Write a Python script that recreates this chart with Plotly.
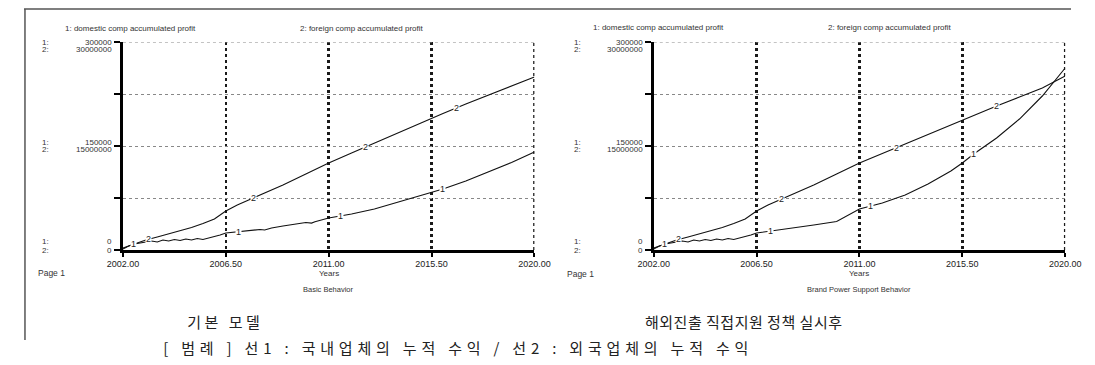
import numpy as np
import plotly.graph_objects as go

# ---------------- data ----------------
x_ticks = [2002.0, 2006.5, 2011.0, 2015.5, 2020.0]
x_tick_text = ["2002.00", "2006.50", "2011.00", "2015.50", "2020.00"]
y1_ticks = [0, 75000, 150000, 225000, 300000]
y2_ticks = [0, 7500000, 15000000, 22500000, 30000000]

# domestic comp accumulated profit (series 1), Basic Behavior
dom_basic_years = [2002.0, 2002.25, 2002.5, 2002.75, 2003.0, 2003.25, 2003.5, 2003.75,
                   2004.0, 2004.25, 2004.5, 2004.75, 2005.0, 2005.25, 2005.5, 2005.75,
                   2006.0, 2006.25, 2006.5, 2007.0, 2007.5, 2008.0, 2008.2, 2008.5,
                   2009.0, 2010.0, 2010.25, 2010.4, 2011.0, 2012.0, 2013.0, 2014.0,
                   2015.0, 2015.5, 2016.0, 2017.0, 2018.0, 2019.0, 2020.0]
dom_basic_vals = [1400, 5800, 8700, 10100, 11500, 13000, 11500, 14400,
                  13000, 15100, 13700, 15900, 14400, 16600, 15100, 17300,
                  18700, 21600, 24500, 26000, 27400, 29600, 28800, 31700,
                  34600, 39700, 38800, 40800, 46100, 51900, 59100, 68500,
                  77900, 82200, 88000, 99500, 112500, 126200, 141300]

# domestic comp accumulated profit (series 1), Brand Power Support Behavior
dom_brand_years = [2002.0, 2002.25, 2002.5, 2002.75, 2003.0, 2003.25, 2003.5, 2003.75,
                   2004.0, 2004.25, 2004.5, 2004.75, 2005.0, 2005.25, 2005.5, 2005.75,
                   2006.0, 2006.25, 2006.5, 2007.0, 2008.0, 2009.0, 2010.0, 2011.0,
                   2012.0, 2013.0, 2014.0, 2015.0, 2015.5, 2016.0, 2017.0, 2018.0,
                   2019.0, 2020.0]
dom_brand_vals = [1400, 5800, 8700, 10100, 11500, 13000, 11500, 14400,
                  13000, 15100, 13700, 15900, 14400, 16600, 15100, 17300,
                  18700, 21600, 24500, 26700, 31700, 36000, 41100, 59100,
                  67800, 79300, 95200, 113900, 125500, 138500, 161500, 188900,
                  222100, 262500]

# foreign comp accumulated profit (series 2)
for_years = [2002.0, 2002.5, 2003.0, 2003.5, 2004.0, 2004.5, 2005.0, 2005.5, 2006.0,
             2006.5, 2007.0, 2007.5, 2008.0, 2009.0, 2010.0, 2011.0, 2012.0, 2013.0,
             2014.0, 2015.0, 2015.5, 2016.0, 2017.0, 2018.0, 2019.0, 2020.0]
for_basic_vals = [290000, 870000, 1440000, 1870000, 2310000, 2740000, 3250000, 3820000,
                  4470000, 5630000, 6490000, 7210000, 7930000, 9380000, 10960000,
                  12550000, 13990000, 15430000, 16880000, 18320000, 19040000, 19690000,
                  21060000, 22360000, 23650000, 24950000]
for_brand_vals = [290000, 870000, 1440000, 1870000, 2310000, 2740000, 3250000, 3820000,
                  4470000, 5630000, 6490000, 7210000, 7930000, 9380000, 10960000,
                  12550000, 13920000, 15290000, 16660000, 18030000, 18750000, 19470000,
                  20770000, 22070000, 23370000, 25100000]

# where the Stella-style series numbers sit along the lines
lab1_basic = [2002.45, 2007.05, 2011.5, 2016.0]
lab2_basic = [2003.1, 2007.7, 2012.6, 2016.6]
lab1_brand = [2002.45, 2007.1, 2011.5, 2016.0]
lab2_brand = [2003.1, 2007.6, 2012.6, 2017.0]

cap_left = "기본 모델"
cap_right = "해외진출 직접지원 정책 실시후"
legend_text = "[ 범례 ] 선1 : 국내업체의 누적 수익 / 선2 : 외국업체의 누적 수익"

# ---------------- layout geometry ----------------
# the page keeps the browser's 8px body margin, so the figure is sized to fit the
# 1095x365 window exactly and positions are given in window pixels
WIN_W, WIN_H, MARGIN = 1095, 365, 8
W, H = WIN_W - 2 * MARGIN, WIN_H - 2 * MARGIN
def px(x):
    return (x - MARGIN) / W
def py(y):
    return 1 - (y - MARGIN) / H

dom_left = [px(110), px(534)]
dom_right = [px(657), px(1081)]
ydom = [py(250), py(42)]

FONT = "Liberation Sans, Arial, sans-serif"
KFONT = "Noto Sans CJK KR, sans-serif"
TXT = "#333333"

fig = go.Figure()

line_style = dict(color="#111111", width=1.1)
fig.add_trace(go.Scatter(x=dom_basic_years, y=dom_basic_vals, mode="lines", line=line_style,
                         xaxis="x", yaxis="y", showlegend=False, hoverinfo="skip"))
fig.add_trace(go.Scatter(x=for_years, y=for_basic_vals, mode="lines", line=line_style,
                         xaxis="x", yaxis="y2", showlegend=False, hoverinfo="skip"))
fig.add_trace(go.Scatter(x=dom_brand_years, y=dom_brand_vals, mode="lines", line=line_style,
                         xaxis="x2", yaxis="y3", showlegend=False, hoverinfo="skip"))
fig.add_trace(go.Scatter(x=for_years, y=for_brand_vals, mode="lines", line=line_style,
                         xaxis="x2", yaxis="y4", showlegend=False, hoverinfo="skip"))

VGRID = "#1a1a1a"
HGRID = "#888888"
xcommon = dict(range=[x_ticks[0], x_ticks[-1]], tickvals=x_ticks, ticktext=x_tick_text,
               showline=True, linecolor="#000", linewidth=2.5, ticks="outside",
               ticklen=4, tickwidth=2, tickcolor="#000",
               showgrid=True, gridcolor=VGRID, gridwidth=2.5, griddash="dot",
               tickfont=dict(family=FONT, size=9, color="#222"), zeroline=False,
               fixedrange=True)
ycommon = dict(range=[y1_ticks[0], y1_ticks[-1]], tickvals=y1_ticks, showticklabels=False,
               showline=True, linecolor="#000", linewidth=2.5, ticks="outside",
               ticklen=6, tickwidth=2, tickcolor="#000",
               showgrid=True, gridcolor=HGRID, gridwidth=1, griddash="dot",
               zeroline=False, domain=ydom, fixedrange=True)
y2common = dict(range=[y2_ticks[0], y2_ticks[-1]], visible=False, domain=ydom,
                showgrid=False, zeroline=False, fixedrange=True)

fig.update_layout(
    width=W, height=H, autosize=False, margin=dict(l=0, r=0, t=0, b=0),
    paper_bgcolor="white", plot_bgcolor="white",
    xaxis=dict(domain=dom_left, anchor="y", **xcommon),
    xaxis2=dict(domain=dom_right, anchor="y3", **xcommon),
    yaxis=dict(anchor="x", **ycommon),
    yaxis2=dict(anchor="x", overlaying="y", **y2common),
    yaxis3=dict(anchor="x2", **ycommon),
    yaxis4=dict(anchor="x2", overlaying="y3", **y2common),
)

# edge grid lines (right-hand 2020 line and top 300000 line)
for xr, yr in (("x", "y"), ("x2", "y3")):
    fig.add_shape(type="line", xref=xr, yref=yr, x0=x_ticks[-1], x1=x_ticks[-1],
                  y0=y1_ticks[0], y1=y1_ticks[-1], line=dict(color=VGRID, width=2.5, dash="dot"))
    fig.add_shape(type="line", xref=xr, yref=yr, x0=x_ticks[0], x1=x_ticks[-1],
                  y0=y1_ticks[-1], y1=y1_ticks[-1], line=dict(color=HGRID, width=1, dash="dot"))

ann = []
def add_text(text, x, y, size=8, xanchor="left", font=FONT, color=TXT, **kw):
    ann.append(dict(text=text, x=x, y=y, xref="paper", yref="paper", showarrow=False,
                    xanchor=xanchor, yanchor="middle", font=dict(family=font, size=size, color=color),
                    **kw))

# series headers
add_text("1: domestic comp accumulated profit", px(48), py(28))
add_text("2: foreign comp accumulated profit", px(290), py(28))
add_text("1: domestic comp accumulated profit", px(592), py(27))
add_text("2: foreign comp accumulated profit", px(835), py(27))

# double y-axis labels
def ylabels(yref, lab_x, val_x):
    rows = [(y1_ticks[-1], y2_ticks[-1], 0, -7),
            (y1_ticks[2], y2_ticks[2], 4, -3),
            (y1_ticks[0], y2_ticks[0], 9, 0)]
    for v1, v2, s1, s2 in rows:
        for num, v, s in (("1:", v1, s1), ("2:", v2, s2)):
            ann.append(dict(text=num, x=lab_x, y=v1, xref="paper", yref=yref, yshift=s,
                            showarrow=False, xanchor="left", yanchor="middle",
                            font=dict(family=FONT, size=8, color=TXT)))
            ann.append(dict(text=str(v), x=val_x, y=v1, xref="paper", yref=yref, yshift=s,
                            showarrow=False, xanchor="right", yanchor="middle",
                            font=dict(family=FONT, size=8, color=TXT)))
ylabels("y", px(25), px(101))
ylabels("y3", px(573), px(648))

# axis titles / footers
for cx, sub in ((px(322), "Basic Behavior"), (px(869), "Brand Power Support Behavior")):
    add_text("Years", cx, py(273), size=8, xanchor="center")
    add_text(sub, cx, py(289), size=7.5, xanchor="center")
add_text("Page 1", px(20), py(273), size=8.5)
add_text("Page 1", px(566), py(274), size=8.5)

# line number labels
def line_labels(xs, years, vals, num, xref, yref):
    for lx in xs:
        ly = float(np.interp(lx, years, vals))
        ann.append(dict(text=num, x=lx, y=ly, xref=xref, yref=yref, showarrow=False,
                        xanchor="center", yanchor="middle", bgcolor="white", borderpad=0,
                        font=dict(family=FONT, size=9, color="#222")))
line_labels(lab1_basic, dom_basic_years, dom_basic_vals, "1", "x", "y")
line_labels(lab2_basic, for_years, for_basic_vals, "2", "x", "y2")
line_labels(lab1_brand, dom_brand_years, dom_brand_vals, "1", "x2", "y3")
line_labels(lab2_brand, for_years, for_brand_vals, "2", "x2", "y4")

# Korean captions
add_text(cap_left, px(216), py(321), size=15, xanchor="center", font=KFONT, color="#222")
add_text(cap_right, px(750), py(321), size=15, xanchor="center", font=KFONT, color="#222")
add_text(legend_text, px(455), py(347), size=15, xanchor="center", font=KFONT, color="#222")

fig.update_layout(annotations=ann)

# scan frame lines
fig.add_shape(type="line", xref="paper", yref="paper", x0=px(8), x1=1, y0=py(9), y1=py(9),
              line=dict(color="#555", width=1.5))
fig.add_shape(type="line", xref="paper", yref="paper", x0=px(9), x1=px(9), y0=py(9), y1=py(340),
              line=dict(color="#555", width=1.5))

# letter spacing of the Korean captions (the source text is widely tracked)
post_js = """
var gd = document.getElementById('{plot_id}');
var spacing = {};
spacing[%s] = 3.5;
spacing[%s] = 0.5;
spacing[%s] = 4.8;
gd.querySelectorAll('text.annotation-text').forEach(function(t) {
    var s = spacing[t.textContent];
    if (s !== undefined) { t.style.letterSpacing = s + 'px'; }
});
""" % tuple('"%s"' % s for s in (cap_left, cap_right, legend_text))

fig.write_html("out.html", post_script=post_js,
               config={"displayModeBar": False, "responsive": False, "staticPlot": True})
